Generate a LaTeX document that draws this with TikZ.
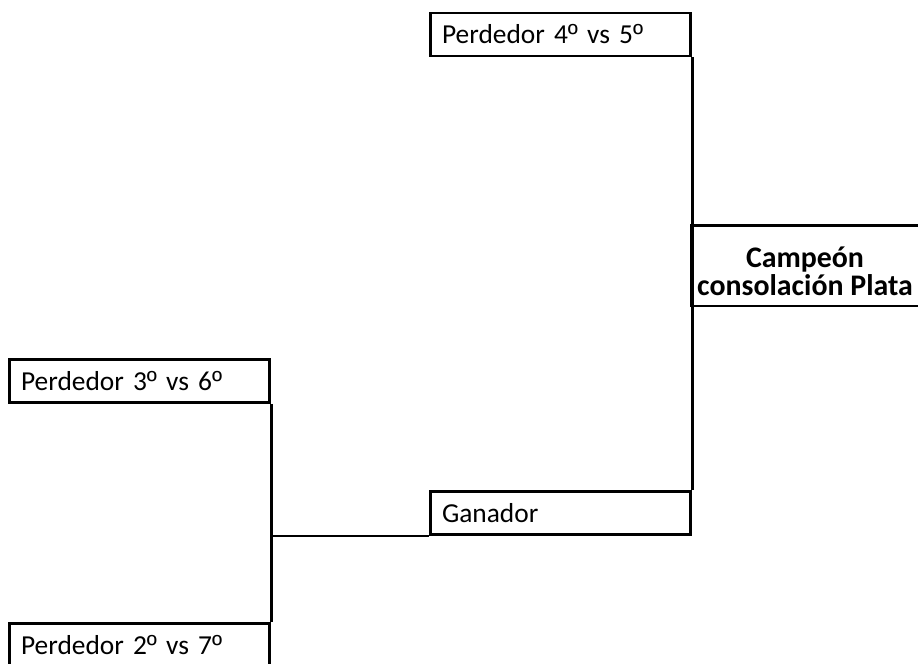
\documentclass[tikz,border=0pt]{standalone}
\usepackage{fontspec}
\setmainfont{Carlito}
\newfontfamily\ordfont{Liberation Sans}
\newcommand{\ordo}{{\ordfont º}}
\usetikzlibrary{positioning}

\begin{document}
\begin{tikzpicture}[x=0.02cm,y=-0.02cm,
font=\fontsize{15.6}{18}\selectfont,
celda/.style={draw,line width=1.7pt,minimum height=0.86cm,text width=4.74cm,
  inner xsep=0.24cm,inner ysep=0pt,align=left},
final/.style={draw,line width=1.7pt,minimum height=1.62cm,minimum width=4.56cm,
  inner sep=0pt,align=center,font=\fontsize{17}{16}\selectfont\bfseries},
linea/.style={line width=1.7pt}]
\useasboundingbox (0,0) rectangle (918,663);
\clip (0,0) rectangle (918,663);
% casillas
\node[celda] (p45) at (560.5,34.5) {Perdedor 4\ordo{} vs 5\ordo};
\node[celda] (p36) at (139.5,381) {Perdedor 3\ordo{} vs 6\ordo};
\node[celda] (p27) at (139.5,645) {Perdedor 2\ordo{} vs 7\ordo};
\node[celda] (ganador) at (560.5,513) {Ganador};
\node[final] (campeon) at (805,265.5) {\rule{0pt}{18pt}Campeón\\consolación Plata};

% llaves
\draw[linea] (p36.south east) -- (p27.north east);
\coordinate (union) at (p36.south east |- ganador.south);
\draw[linea] (union) -- (ganador.south west);
\draw[linea] (p45.south east) -- (ganador.north east);

\end{tikzpicture}
\end{document}
